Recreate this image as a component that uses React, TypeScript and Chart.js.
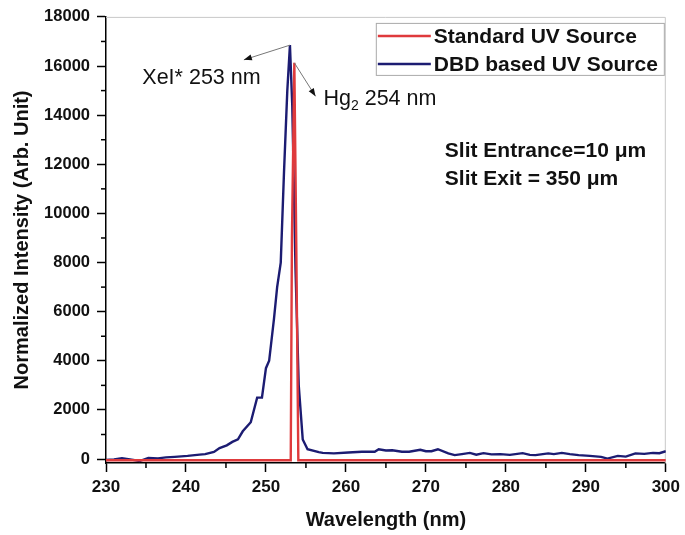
import React, { useEffect, useRef } from "react";
import { Chart, registerables } from "chart.js";

Chart.register(...registerables);

// ---- data ----
const standardX = [230, 253.1, 253.25, 253.55, 253.8, 254.05, 300];
const standardY = [-50, -50, 9000, 16130, 8500, -50, -50];

const dbdX = [
  230, 231, 232, 233, 234.2, 235.3, 236.5, 237.5, 238.6, 240.2, 241.7, 242.4, 243.5, 244.2,
  245.1, 245.8, 246.5, 247.1, 248.1, 248.9, 249.5, 250.0, 250.4, 251.0, 251.4, 251.85, 252.26,
  252.67, 253.0, 253.29, 253.7, 254.1, 254.6, 255.2, 256.6, 257.1, 258.5, 260.3, 262, 263.6,
  264.1, 265, 265.8, 267, 267.9, 269.3, 270, 270.7, 271.5, 272.8, 273.6, 274.5, 275.5, 276.3,
  277.2, 278.2, 279.3, 280.5, 282.1, 283, 283.7, 285.3, 286, 287, 288, 289.1, 290.5, 291.9,
  292.7, 294, 295, 296.2, 297.3, 298.4, 299.2, 300,
];
const dbdY = [
  -40, -20, 30, -10, -80, 50, 30, 70, 90, 130, 180, 200, 290, 450,
  560, 700, 800, 1130, 1500, 2500, 2500, 3700, 4000, 5700, 7000, 8000, 11700,
  15000, 16850, 14400, 7700, 3000, 800, 400, 280, 250, 230, 270, 300, 300,
  400, 350, 360, 300, 300, 380, 320, 320, 400, 230, 160, 200, 250, 180,
  240, 190, 200, 170, 240, 170, 160, 230, 200, 250, 200, 160, 130, 90,
  20, 130, 100, 230, 210, 250, 240, 320,
];

const xTickValues = [230, 240, 250, 260, 270, 280, 290, 300];
const yTickValues = [0, 2000, 4000, 6000, 8000, 10000, 12000, 14000, 16000, 18000];
const xMinorValues = [235, 245, 255, 265, 275, 285, 295];
const yMinorValues = [1000, 3000, 5000, 7000, 9000, 11000, 13000, 15000, 17000];

const seriesNames = ["Standard UV Source", "DBD based UV Source"];
const xAxisTitle = "Wavelength (nm)";
const yAxisTitle = "Normalized Intensity (Arb. Unit)";

// annotations (data coordinates)
const xeText = "XeI* 253 nm";
const xeTextAt = [234.54, 15490];
const xeArrowFrom = [253.0, 16850];
const xeArrowTo = [247.24, 16252];
const hgParts = ["Hg", "2", " 254 nm"];
const hgTextAt = [257.19, 14647];
const hgArrowFrom = [253.55, 16130];
const hgArrowTo = [256.2, 14767];
const slitLines = ["Slit Entrance=10 \u03bcm", "Slit Exit = 350 \u03bcm"];
const slitAt = [[272.37, 12520], [272.37, 11397]];

// ---- styles ----
const RED = "#df3a3c";
const BLUE = "#1c1c72";
const FONT = "'Liberation Sans', Arial, sans-serif";

function drawArrow(ctx: CanvasRenderingContext2D, x1: number, y1: number, x2: number, y2: number) {
  ctx.save();
  ctx.strokeStyle = "#777";
  ctx.lineWidth = 1;
  ctx.beginPath();
  ctx.moveTo(x1, y1);
  ctx.lineTo(x2, y2);
  ctx.stroke();
  const ang = Math.atan2(y2 - y1, x2 - x1);
  const len = 8;
  const hw = 3;
  ctx.fillStyle = "#111";
  ctx.beginPath();
  ctx.moveTo(x2, y2);
  ctx.lineTo(x2 - len * Math.cos(ang) + hw * Math.sin(ang), y2 - len * Math.sin(ang) - hw * Math.cos(ang));
  ctx.lineTo(x2 - len * Math.cos(ang) - hw * Math.sin(ang), y2 - len * Math.sin(ang) + hw * Math.cos(ang));
  ctx.closePath();
  ctx.fill();
  ctx.restore();
}

const overlayPlugin = {
  id: "overlay",
  beforeDatasetsDraw(chart: any) {
    const { ctx, chartArea: a } = chart;
    ctx.save();
    ctx.strokeStyle = "#c8c8c8";
    ctx.lineWidth = 1;
    ctx.beginPath();
    ctx.moveTo(a.left, a.top + 0.5);
    ctx.lineTo(a.right - 0.5, a.top + 0.5);
    ctx.lineTo(a.right - 0.5, a.bottom);
    ctx.stroke();
    ctx.restore();
  },
  afterDraw(chart: any) {
    const { ctx, chartArea: a } = chart;
    const x = chart.scales.x;
    const y = chart.scales.y;
    ctx.save();
    // minor ticks
    ctx.strokeStyle = "#000";
    ctx.lineWidth = 1.5;
    xMinorValues.forEach((v) => {
      const px = x.getPixelForValue(v);
      ctx.beginPath();
      ctx.moveTo(px, a.bottom);
      ctx.lineTo(px, a.bottom + 5);
      ctx.stroke();
    });
    yMinorValues.forEach((v) => {
      const py = y.getPixelForValue(v);
      ctx.beginPath();
      ctx.moveTo(a.left, py);
      ctx.lineTo(a.left - 5, py);
      ctx.stroke();
    });

    // arrows
    drawArrow(ctx, x.getPixelForValue(xeArrowFrom[0]), y.getPixelForValue(xeArrowFrom[1]),
      x.getPixelForValue(xeArrowTo[0]), y.getPixelForValue(xeArrowTo[1]));
    drawArrow(ctx, x.getPixelForValue(hgArrowFrom[0]), y.getPixelForValue(hgArrowFrom[1]),
      x.getPixelForValue(hgArrowTo[0]), y.getPixelForValue(hgArrowTo[1]));

    // annotation texts
    ctx.fillStyle = "#111";
    ctx.textBaseline = "middle";
    ctx.textAlign = "left";
    ctx.font = `21.5px ${FONT}`;
    ctx.fillText(xeText, x.getPixelForValue(xeTextAt[0]), y.getPixelForValue(xeTextAt[1]));
    let hx = x.getPixelForValue(hgTextAt[0]);
    const hy = y.getPixelForValue(hgTextAt[1]);
    ctx.fillText(hgParts[0], hx, hy);
    hx += ctx.measureText(hgParts[0]).width;
    ctx.font = `14px ${FONT}`;
    ctx.fillText(hgParts[1], hx, hy + 7);
    hx += ctx.measureText(hgParts[1]).width;
    ctx.font = `21.5px ${FONT}`;
    ctx.fillText(hgParts[2], hx, hy);

    // slit text
    ctx.font = `bold 21px ${FONT}`;
    slitLines.forEach((t, i) => {
      ctx.fillText(t, x.getPixelForValue(slitAt[i][0]), y.getPixelForValue(slitAt[i][1]));
    });

    // legend
    const bw = 288;
    const bh = 52;
    const bx = a.right - bw - 2;
    const by = a.top + 6;
    ctx.fillStyle = "#fff";
    ctx.fillRect(bx, by, bw, bh);
    ctx.strokeStyle = "#aaa";
    ctx.lineWidth = 1;
    ctx.strokeRect(bx + 0.5, by + 0.5, bw, bh);
    ctx.font = `bold 21px ${FONT}`;
    chart.data.datasets.forEach((ds: any, i: number) => {
      const ly = by + 13 + i * 28;
      ctx.strokeStyle = ds.borderColor;
      ctx.lineWidth = 2.5;
      ctx.beginPath();
      ctx.moveTo(bx + 2, ly);
      ctx.lineTo(bx + 55, ly);
      ctx.stroke();
      ctx.fillStyle = "#111";
      ctx.fillText(ds.label, bx + 58, ly + 1);
    });
    ctx.restore();
  },
};

export default function App() {
  const ref = useRef<HTMLCanvasElement | null>(null);
  useEffect(() => {
    if (!ref.current) return;
    const chart = new Chart(ref.current, {
      type: "line",
      data: {
        datasets: [
          {
            label: seriesNames[0],
            data: standardX.map((v, i) => ({ x: v, y: standardY[i] })),
            borderColor: RED,
            backgroundColor: RED,
            borderWidth: 2.4,
            pointRadius: 0,
            tension: 0,
          },
          {
            label: seriesNames[1],
            data: dbdX.map((v, i) => ({ x: v, y: dbdY[i] })),
            borderColor: BLUE,
            backgroundColor: BLUE,
            borderWidth: 2.4,
            pointRadius: 0,
            tension: 0,
          },
        ],
      },
      options: {
        responsive: false,
        animation: false,
        devicePixelRatio: 1,
        layout: { padding: { left: 0, top: 10, right: 16, bottom: 0 } },
        plugins: { legend: { display: false }, tooltip: { enabled: false } },
        scales: {
          x: {
            type: "linear",
            min: 230,
            max: 300,
            afterBuildTicks: (s: any) => {
              s.ticks = xTickValues.map((v) => ({ value: v }));
            },
            afterFit: (s: any) => {
              s.height = 72;
            },
            ticks: {
              font: { family: FONT, size: 17, weight: "bold" },
              color: "#111",
              padding: 5,
              maxRotation: 0,
              callback: (v: any) => String(v),
            },
            grid: {
              drawOnChartArea: false,
              drawTicks: true,
              tickLength: 9,
              tickColor: "#000",
              tickWidth: 1.5,
            },
            border: { display: true, color: "#000", width: 1.5 },
            title: {
              display: true,
              text: xAxisTitle,
              font: { family: FONT, size: 20, weight: "bold" },
              color: "#111",
              padding: { top: 0, bottom: 3 },
            },
          },
          y: {
            type: "linear",
            min: -160,
            max: 18000,
            afterBuildTicks: (s: any) => {
              s.ticks = yTickValues.map((v) => ({ value: v }));
            },
            afterFit: (s: any) => {
              s.width = 106;
            },
            ticks: {
              font: { family: FONT, size: 16.5, weight: "bold" },
              color: "#111",
              padding: 7,
              callback: (v: any) => String(v),
            },
            grid: {
              drawOnChartArea: false,
              drawTicks: true,
              tickLength: 9,
              tickColor: "#000",
              tickWidth: 1.5,
            },
            border: { display: true, color: "#000", width: 1.5 },
            title: {
              display: true,
              text: yAxisTitle,
              font: { family: FONT, size: 20, weight: "bold" },
              color: "#111",
              padding: { top: 10, bottom: 0 },
            },
          },
        },
      },
      plugins: [overlayPlugin],
    } as any);
    return () => chart.destroy();
  }, []);
  return (
    <div style={{ position: "fixed", left: 0, top: 0, width: 685, height: 535, background: "#fff" }}>
      <canvas ref={ref} width={685} height={535} style={{ display: "block" }} />
    </div>
  );
}
